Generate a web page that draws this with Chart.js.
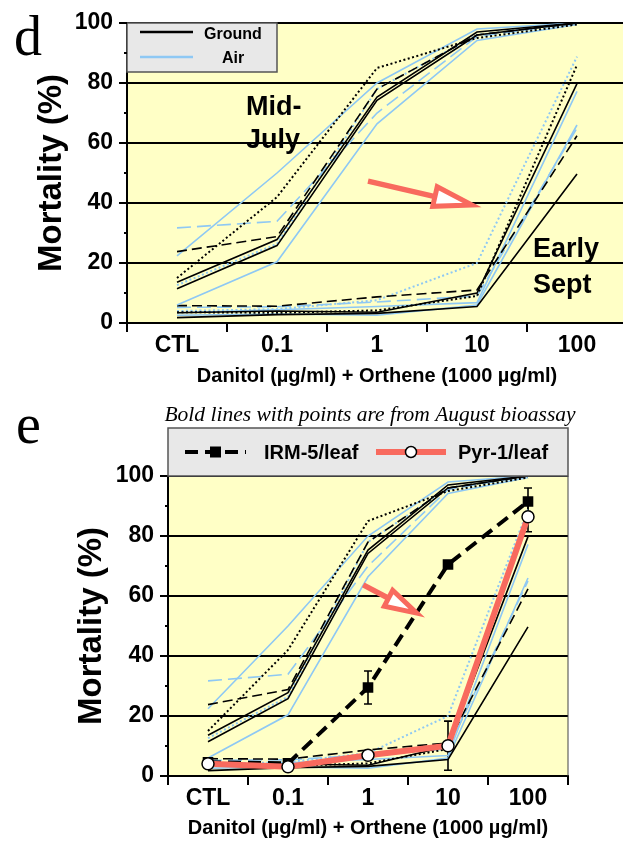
<!DOCTYPE html>
<html>
<head>
<meta charset="utf-8">
<script src="https://cdn.jsdelivr.net/npm/chart.js@4.4.1/dist/chart.umd.min.js"></script>
<style>
html, body { margin: 0; padding: 0; background: #fff; overflow: hidden; width: 623px; height: 842px; }
#wrapD { position: absolute; left: 0; top: 0; width: 650px; height: 390px; }
#wrapE { position: absolute; left: 0; top: 400px; width: 623px; height: 442px; }
</style>
</head>
<body>
<div id="wrapD"><canvas id="chartD"></canvas></div>
<div id="wrapE"><canvas id="chartE"></canvas></div>
<script>
// categories (dose of Danitol) and y ticks
var categories = ['CTL', '0.1', '1', '10', '100'];
var yTickValues = [0, 10, 20, 30, 40, 50, 60, 70, 80, 90, 100];

// Mid-July bioassay
var julyGroundSolid1 = [13.6, 27.8, 75.3, 97, 100];
var julyGroundSolid2 = [11.4, 25.8, 74.2, 96, 100];
var julyGroundDashed = [23.8, 28.8, 78, 96, 100];
var julyGroundDotted = [15, 42, 85, 95, 99.5];
var julyAirSolid1 = [22.4, 50, 80, 98, 100];
var julyAirSolid2 = [6, 20.4, 66.4, 94.2, 99.5];
var julyAirDashed = [31.7, 33.9, 70, 95.5, 100];
var julyAirDotted = [12.6, 26.4, 78, 96, 100];

// Early September bioassay
var septGroundSolid1 = [3.4, 4, 3.6, 10, 79.8];
var septGroundSolid2 = [1.8, 2.8, 3.2, 5.5, 49.7];
var septGroundDashed = [5.8, 5.6, 8.7, 11, 62.4];
var septGroundDotted = [3.6, 3.4, 4.2, 9, 86];
var septAirSolid1 = [3.4, 4.4, 5.5, 6.8, 77.2];
var septAirSolid2 = [2.6, 3, 2.6, 6, 66];
var septAirDashed = [5.2, 5.4, 7, 9, 65];
var septAirDotted = [4, 4.6, 7.6, 20, 88.8];

// August bioassay (bold lines with points)
var irm5 = [4.6, 4.2, 29.5, 70.5, 91.5];
var irm5Err = [0, 0, 5.5, 0, 4.5];
var pyr1 = [4.1, 3.1, 6.9, 10.1, 86.4];
var pyr1Err = [0, 0, 0, 8.2, 5];

Chart.defaults.font.family = "'Liberation Sans', Arial, Helvetica, sans-serif";
Chart.defaults.font.weight = 'bold';
Chart.defaults.color = '#000';

var BLACK = '#000000', BLUE = '#8EC8F4', RED = '#F86A5E', PLOT_BG = '#FFFFC6';
var dashes = { solid: [], dashed: [10, 5], dotted: [2, 2.5], longDash: [14, 6] };

var backgroundSeries = [
  ['Ground', julyGroundSolid1, BLACK, 'solid'],
  ['Ground', julyGroundSolid2, BLACK, 'solid'],
  ['Ground', julyGroundDashed, BLACK, 'dashed'],
  ['Ground', julyGroundDotted, BLACK, 'dotted'],
  ['Air', julyAirSolid1, BLUE, 'solid'],
  ['Air', julyAirSolid2, BLUE, 'solid'],
  ['Air', julyAirDashed, BLUE, 'longDash'],
  ['Air', julyAirDotted, BLUE, 'dotted'],
  ['Ground', septGroundSolid1, BLACK, 'solid'],
  ['Ground', septGroundSolid2, BLACK, 'solid'],
  ['Ground', septGroundDashed, BLACK, 'dashed'],
  ['Ground', septGroundDotted, BLACK, 'dotted'],
  ['Air', septAirSolid1, BLUE, 'solid'],
  ['Air', septAirSolid2, BLUE, 'solid'],
  ['Air', septAirDashed, BLUE, 'longDash'],
  ['Air', septAirDotted, BLUE, 'dotted']
];

function backgroundDatasets() {
  return backgroundSeries.map(function (s) {
    return {
      label: s[0], data: s[1], borderColor: s[2],
      borderWidth: s[3] === 'dotted' ? 2 : 1.6,
      borderDash: dashes[s[3]], pointRadius: 0, tension: 0, fill: false
    };
  });
}

var plotBgPlugin = {
  id: 'plotBg',
  beforeDraw: function (chart) {
    var a = chart.chartArea, ctx = chart.ctx;
    ctx.save();
    ctx.fillStyle = PLOT_BG;
    ctx.fillRect(a.left, a.top, a.right - a.left, a.bottom - a.top);
    ctx.restore();
  }
};

// short minor / long major tick marks on both axes
var tickMarkPlugin = {
  id: 'tickMarks',
  afterDraw: function (chart) {
    var ctx = chart.ctx, a = chart.chartArea;
    var x = chart.scales.x, y = chart.scales.y;
    ctx.save();
    ctx.strokeStyle = '#000';
    ctx.lineWidth = 2;
    yTickValues.forEach(function (v) {
      var py = y.getPixelForValue(v);
      var len = v % 20 === 0 ? 8 : 3;
      ctx.beginPath(); ctx.moveTo(a.left - len, py); ctx.lineTo(a.left, py); ctx.stroke();
    });
    var half = (x.getPixelForValue(1) - x.getPixelForValue(0)) / 2;
    for (var i = 0; i <= categories.length; i++) {
      var px = x.getPixelForValue(i) - half;
      ctx.beginPath(); ctx.moveTo(px, a.bottom); ctx.lineTo(px, a.bottom + 9); ctx.stroke();
    }
    ctx.restore();
  }
};

var errorBarPlugin = {
  id: 'errorBars',
  beforeDatasetsDraw: function (chart) {
    var ctx = chart.ctx, x = chart.scales.x, y = chart.scales.y;
    ctx.save();
    ctx.strokeStyle = '#000';
    ctx.lineWidth = 1.6;
    chart.data.datasets.forEach(function (ds) {
      if (!ds.errorBars) return;
      ds.data.forEach(function (v, i) {
        var e = ds.errorBars[i];
        if (!e) return;
        var px = x.getPixelForValue(i);
        var top = y.getPixelForValue(v + e), bot = y.getPixelForValue(v - e);
        ctx.beginPath();
        ctx.moveTo(px, top); ctx.lineTo(px, bot);
        ctx.moveTo(px - 4, top); ctx.lineTo(px + 4, top);
        ctx.moveTo(px - 4, bot); ctx.lineTo(px + 4, bot);
        ctx.stroke();
      });
    });
    ctx.restore();
  }
};

function drawArrow(chart, from, to, headLen, headHalf) {
  var ctx = chart.ctx, x = chart.scales.x, y = chart.scales.y;
  var x0 = x.getPixelForValue(from[0]), y0 = y.getPixelForValue(from[1]);
  var x1 = x.getPixelForValue(to[0]), y1 = y.getPixelForValue(to[1]);
  var ang = Math.atan2(y1 - y0, x1 - x0);
  var bx = x1 - headLen * Math.cos(ang), by = y1 - headLen * Math.sin(ang);
  var nx = -Math.sin(ang), ny = Math.cos(ang);
  ctx.save();
  ctx.strokeStyle = RED;
  ctx.lineWidth = 5.5;
  ctx.beginPath(); ctx.moveTo(x0, y0); ctx.lineTo(bx, by); ctx.stroke();
  ctx.lineJoin = 'miter';
  ctx.lineWidth = 5;
  ctx.beginPath();
  ctx.moveTo(x1, y1);
  ctx.lineTo(bx + nx * headHalf, by + ny * headHalf);
  ctx.lineTo(bx - nx * headHalf, by - ny * headHalf);
  ctx.closePath();
  ctx.fillStyle = '#fff';
  ctx.fill();
  ctx.stroke();
  ctx.restore();
}

function makeScales(yWidth, xHeight, yTitlePad, xTickPad) {
  return {
    x: {
      type: 'category', offset: true,
      grid: { drawOnChartArea: false, drawTicks: false },
      border: { color: '#000', width: 2 },
      ticks: { padding: xTickPad, font: { size: 23, weight: 'bold' }, color: '#000' },
      title: { display: true, text: 'Danitol (\u00b5g/ml) + Orthene (1000 \u00b5g/ml)',
        font: { size: 20, weight: 'bold' }, color: '#000', padding: { top: 0, bottom: 2 } },
      afterFit: function (s) { s.height = xHeight; }
    },
    y: {
      min: 0, max: 100,
      grid: {
        drawTicks: false, lineWidth: 2,
        color: function (c) { return c.tick.value % 20 === 0 ? '#000' : '#999'; }
      },
      border: { color: '#000', width: 2 },
      ticks: {
        stepSize: 10, padding: 14, font: { size: 23, weight: 'bold' }, color: '#000',
        callback: function (v) { return v % 20 === 0 ? v : ''; }
      },
      title: { display: true, text: 'Mortality (%)', font: { size: 33, weight: 'bold' },
        color: '#000', padding: { top: yTitlePad - 0.6, bottom: 0 } },
      afterFit: function (s) { s.width = yWidth; s.paddingTop = 0; s.paddingBottom = 0; }
    }
  };
}

// ---------- panel d ----------
var labelsD = [
  { text: 'Mid-', at: [0.69, 69.3] }, { text: 'July', at: [0.69, 58.3] },
  { text: 'Early', at: [3.56, 22] }, { text: 'Sept', at: [3.56, 10] }
];

var panelDExtras = {
  id: 'panelDExtras',
  afterDatasetsDraw: function (chart) {
    var ctx = chart.ctx, x = chart.scales.x, y = chart.scales.y, a = chart.chartArea;
    drawArrow(chart, [1.91, 47.3], [2.95, 39.3], 38, 10);
    ctx.save();
    ctx.fillStyle = '#000';
    ctx.font = "bold 27px 'Liberation Sans', Arial, sans-serif";
    ctx.textAlign = 'left'; ctx.textBaseline = 'alphabetic';
    labelsD.forEach(function (l) {
      ctx.fillText(l.text, x.getPixelForValue(l.at[0]), y.getPixelForValue(l.at[1]));
    });
    // legend box
    ctx.fillStyle = '#E8E8E8';
    ctx.fillRect(a.left, a.top, 150, 49);
    ctx.strokeStyle = '#555'; ctx.lineWidth = 1.5;
    ctx.strokeRect(a.left, a.top, 150, 49);
    [['Ground', BLACK, 9, 12], ['Air', BLUE, 34, 36]].forEach(function (it) {
      ctx.strokeStyle = it[1]; ctx.lineWidth = 2.5;
      ctx.beginPath(); ctx.moveTo(a.left + 13, a.top + it[2]); ctx.lineTo(a.left + 66, a.top + it[2]); ctx.stroke();
      ctx.fillStyle = '#000';
      ctx.font = "bold 16px 'Liberation Sans', Arial, sans-serif";
      ctx.textAlign = 'center'; ctx.textBaseline = 'middle';
      ctx.fillText(it[0], a.left + 106, a.top + it[3]);
    });
    ctx.font = "56px 'Liberation Serif', 'Times New Roman', serif";
    ctx.textAlign = 'left'; ctx.textBaseline = 'alphabetic';
    ctx.fillText('d', 14, 55);
    ctx.restore();
  }
};

new Chart(document.getElementById('chartD'), {
  type: 'line',
  data: { labels: categories, datasets: backgroundDatasets() },
  options: {
    responsive: true, maintainAspectRatio: false, animation: false,
    layout: { padding: { top: 23, right: 23, left: 0, bottom: 0 } },
    plugins: { legend: { display: false }, tooltip: { enabled: false } },
    scales: makeScales(127, 67, 33, 9)
  },
  plugins: [plotBgPlugin, tickMarkPlugin, panelDExtras]
});

// ---------- panel e ----------
var panelEExtras = {
  id: 'panelEExtras',
  afterDatasetsDraw: function (chart) {
    drawArrow(chart, [1.94, 63.7], [2.61, 54.3], 32, 9);
  },
  afterDraw: function (chart) {
    var ctx = chart.ctx, a = chart.chartArea;
    ctx.save();
    ctx.strokeStyle = '#444'; ctx.lineWidth = 1;
    ctx.beginPath(); ctx.moveTo(a.right, a.top); ctx.lineTo(a.right, a.bottom); ctx.stroke();
    // legend box above the plot
    var top = a.top - 48;
    ctx.fillStyle = '#E8E8E8';
    ctx.fillRect(a.left, top, a.right - a.left, 48);
    ctx.strokeStyle = '#555'; ctx.lineWidth = 1.5;
    ctx.strokeRect(a.left, top, a.right - a.left, 48);
    var ly = top + 24;
    // IRM-5 entry
    ctx.strokeStyle = BLACK; ctx.lineWidth = 4; ctx.setLineDash([13, 7]);
    ctx.beginPath(); ctx.moveTo(a.left + 17, ly); ctx.lineTo(a.left + 78, ly); ctx.stroke();
    ctx.setLineDash([]);
    ctx.fillStyle = BLACK; ctx.fillRect(a.left + 42, ly - 5.5, 11, 11);
    // Pyr-1 entry
    ctx.strokeStyle = RED; ctx.lineWidth = 6;
    ctx.beginPath(); ctx.moveTo(a.left + 208, ly); ctx.lineTo(a.left + 278, ly); ctx.stroke();
    ctx.beginPath(); ctx.arc(a.left + 243, ly, 5.5, 0, Math.PI * 2);
    ctx.fillStyle = '#fff'; ctx.fill(); ctx.strokeStyle = '#000'; ctx.lineWidth = 1.5; ctx.stroke();
    ctx.fillStyle = '#000';
    ctx.font = "bold 20px 'Liberation Sans', Arial, sans-serif";
    ctx.textAlign = 'left'; ctx.textBaseline = 'middle';
    ctx.fillText('IRM-5/leaf', a.left + 96, ly + 1);
    ctx.fillText('Pyr-1/leaf', a.left + 290, ly + 1);
    // subtitle and panel letter
    ctx.font = "italic 21.5px 'Liberation Serif', 'Times New Roman', serif";
    ctx.textAlign = 'center'; ctx.textBaseline = 'alphabetic';
    ctx.fillText('Bold lines with points are from August bioassay', 370, 21);
    ctx.font = "56px 'Liberation Serif', 'Times New Roman', serif";
    ctx.textAlign = 'left';
    ctx.fillText('e', 16, 43);
    ctx.restore();
  }
};

var datasetsE = [
  { label: 'Pyr-1/leaf', data: pyr1, errorBars: pyr1Err, borderColor: RED, borderWidth: 6,
    pointStyle: 'circle', pointRadius: 6, pointBackgroundColor: '#fff', pointBorderColor: '#000',
    pointBorderWidth: 1.5, tension: 0, fill: false },
  { label: 'IRM-5/leaf', data: irm5, errorBars: irm5Err, borderColor: BLACK, borderWidth: 4,
    borderDash: [13, 7], pointStyle: 'rect', pointRadius: 7.5, pointBackgroundColor: BLACK,
    pointBorderColor: BLACK, pointBorderWidth: 0, tension: 0, fill: false }
].concat(backgroundDatasets());

new Chart(document.getElementById('chartE'), {
  type: 'line',
  data: { labels: categories, datasets: datasetsE },
  options: {
    responsive: true, maintainAspectRatio: false, animation: false,
    layout: { padding: { top: 76, right: 55, left: 0, bottom: 0 } },
    plugins: { legend: { display: false }, tooltip: { enabled: false } },
    scales: makeScales(168, 66, 73, 9)
  },
  plugins: [plotBgPlugin, errorBarPlugin, tickMarkPlugin, panelEExtras]
});
</script>
</body>
</html>
